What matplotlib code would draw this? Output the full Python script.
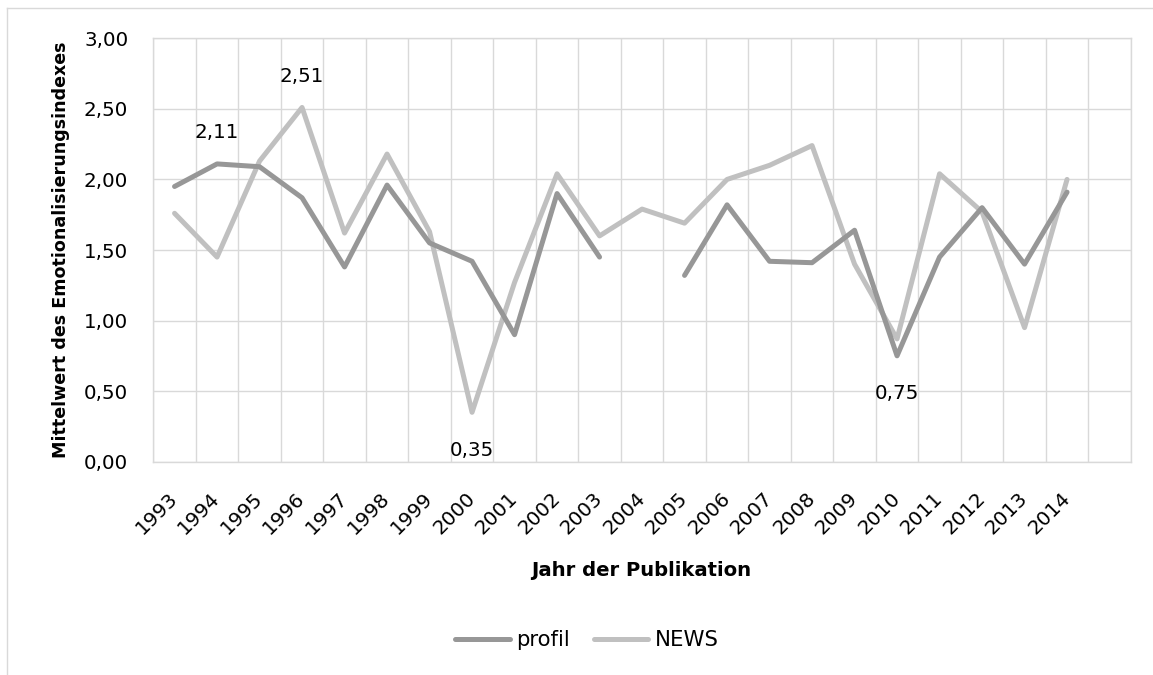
import numpy as np
import matplotlib
matplotlib.use("Agg")
import matplotlib.pyplot as plt
from matplotlib.lines import Line2D
from matplotlib.ticker import FuncFormatter, FixedLocator

# ---------------- data ----------------
years = ["1993", "1994", "1995", "1996", "1997", "1998", "1999", "2000", "2001",
         "2002", "2003", "2004", "2005", "2006", "2007", "2008", "2009", "2010",
         "2011", "2012", "2013", "2014", ""]
profil = [1.95, 2.11, 2.09, 1.87, 1.38, 1.96, 1.55, 1.42, 0.90, 1.90, 1.45,
          np.nan, 1.32, 1.82, 1.42, 1.41, 1.64, 0.75, 1.45, 1.80, 1.40, 1.91]
news = [1.76, 1.45, 2.13, 2.51, 1.62, 2.18, 1.63, 0.35, 1.27, 2.04, 1.60,
        1.79, 1.69, 2.00, 2.10, 2.24, 1.40, 0.87, 2.04, 1.77, 0.95, 2.00]
yticks = [0.0, 0.5, 1.0, 1.5, 2.0, 2.5, 3.0]
# data labels: (series, year, position)
labels = [("profil", "1994", "above"), ("NEWS", "1996", "above"),
          ("NEWS", "2000", "below"), ("profil", "2010", "below")]

# ---------------- figure ----------------
W, H = 1153, 675
DPI = 100
fig = plt.figure(figsize=(W / DPI, H / DPI), dpi=DPI)
plt.rcParams['font.family'] = ['DejaVu Sans']

GRID = "#d9d9d9"
C_PROFIL = "#979797"
C_NEWS = "#c0c0c0"

left, right, top, bottom = 153.3, 1130.8, 38.3, 461.7
ax = fig.add_axes([left / W, 1 - bottom / H, (right - left) / W, (bottom - top) / H])

n = len(years)
xs = np.arange(len(profil)) + 0.5

ax.plot(xs, profil, color=C_PROFIL, lw=3.6, solid_capstyle="round",
        solid_joinstyle="round", label="profil", zorder=3, clip_on=False)
ax.plot(xs, news, color=C_NEWS, lw=3.6, solid_capstyle="round",
        solid_joinstyle="round", label="NEWS", zorder=2, clip_on=False)

ax.set_xlim(0, n)
ax.set_ylim(0, 3)

# major ticks at category centres (labels), minor at boundaries (grid)
ax.xaxis.set_major_locator(FixedLocator(np.arange(n) + 0.5))
ax.xaxis.set_minor_locator(FixedLocator(np.arange(n + 1)))
ax.set_xticklabels(years)
ax.set_yticks(yticks)
ax.yaxis.set_major_formatter(FuncFormatter(lambda v, p: f"{v:.2f}".replace(".", ",")))

ax.grid(True, which="minor", axis="x", color=GRID, lw=1.0, zorder=0)
ax.grid(True, which="major", axis="y", color=GRID, lw=1.0, zorder=0)
ax.grid(False, which="major", axis="x")
ax.set_axisbelow(True)

ax.tick_params(axis="both", which="both", length=0)
ax.tick_params(axis="y", labelsize=14.3, pad=18.0, labelcolor="#000000")
ax.tick_params(axis="x", labelsize=14.3, pad=24.0, labelcolor="#000000")
for lab in ax.get_xticklabels():
    lab.set_rotation(45)
    lab.set_ha("right")
    lab.set_va("center")
    lab.set_rotation_mode("anchor")

for s in ax.spines.values():
    s.set_color(GRID)
    s.set_linewidth(1.0)

# data labels
series = {"profil": profil, "NEWS": news}
for name, yr, pos in labels:
    i = years.index(yr)
    v = series[name][i]
    dy = 31 if pos == "above" else -38
    ax.annotate(f"{v:.2f}".replace(".", ","), xy=(i + 0.5, v),
                xytext=(0, dy), textcoords="offset pixels",
                ha="center", va="center", fontsize=14.3, color="#000000")

# axis titles
fig.text(641 / W, 1 - 576 / H, "Jahr der Publikation", ha="center", va="baseline",
         fontsize=14.1, fontweight="bold", color="#000000")
fig.text(61 / W, 1 - 250 / H, "Mittelwert des Emotionalisierungsindexes",
         rotation=90, ha="center", va="center", fontsize=12.6,
         fontweight="bold", color="#000000")

# legend
handles = [Line2D([], [], color=C_PROFIL, lw=3.6, solid_capstyle="round"),
           Line2D([], [], color=C_NEWS, lw=3.6, solid_capstyle="round")]
fig.legend(handles, ["profil", "NEWS"], loc="center",
           bbox_to_anchor=(587 / W, 1 - 640 / H), ncol=2, frameon=False,
           fontsize=15.3, handlelength=2.55, handletextpad=0.3,
           columnspacing=1.15)

# outer chart border (left and top)
fig.add_artist(Line2D([7 / W, 7 / W], [0, 1 - 8 / H], transform=fig.transFigure,
                      color=GRID, lw=1.0))
fig.add_artist(Line2D([7 / W, 1], [1 - 8 / H, 1 - 8 / H], transform=fig.transFigure,
                      color=GRID, lw=1.0))

fig.savefig("out.png", dpi=DPI)
